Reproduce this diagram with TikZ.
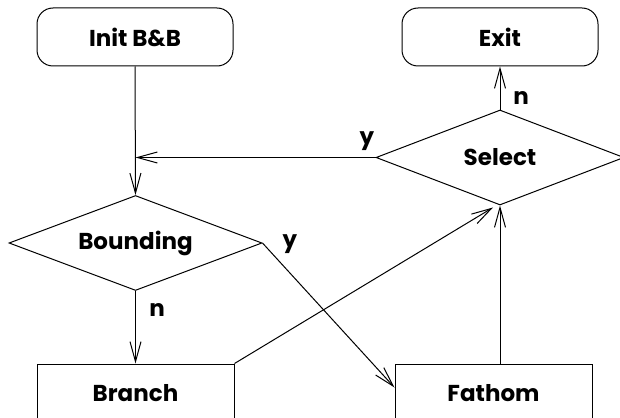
\documentclass[tikz,border=0pt]{standalone}
\usepackage{fontspec}
\setmainfont{Poppins}
\usetikzlibrary{shapes.geometric,arrows.meta}
\begin{document}
\begin{tikzpicture}[x=1pt,y=-1pt,
  every node/.style={font=\fontsize{23}{27}\selectfont\bfseries},
  line width=1pt,
  term/.style={draw,rounded corners=16pt,minimum width=196pt,minimum height=58pt,inner sep=0pt},
  proc/.style={draw,rectangle,minimum width=197pt,minimum height=58pt,inner sep=0pt},
  dec/.style={draw,diamond,inner sep=0pt},
  arr/.style={-{Straight Barb[length=20pt,width=11pt]}},
  lab/.style={inner sep=0pt}]
\useasboundingbox (0,0) rectangle (620,417);
\begin{scope}
\clip (0,0) rectangle (620,417);
\node[term] (init) at (135,37) {Init B\&B};
\node[term] (exit) at (500,37) {Exit};
\node[dec,minimum width=253pt,minimum height=95pt,label={center:Bounding}] (bound) at (135.5,243) {};
\node[dec,minimum width=248pt,minimum height=95pt,label={center:Select}] (select) at (500,157.5) {};
\node[proc] (branch) at (135.5,393) {Branch};
\node[proc] (fathom) at (493.5,393.5) {Fathom};
\end{scope}
\draw[arr] (init.south) -- (bound.north);
\draw[arr] (select.west) -- (select.west -| bound.north);
\draw[arr] (bound.south) -- (branch.north);
\draw[arr] (bound.east) -- ([yshift=6pt]fathom.west);
\draw[arr] (branch.north east) -- ([xshift=-7pt,yshift=-2pt]select.south);
\draw[arr] (select.south |- fathom.north) -- (select.south);
\draw[arr] (select.north) -- (exit.south);
\node[lab] (ly1) at (367,141) {y};
\node[lab] (ln1) at (521,98) {n};
\node[lab] (ly2) at (290,244) {y};
\node[lab] (ln2) at (157,310) {n};
\end{tikzpicture}
\end{document}
